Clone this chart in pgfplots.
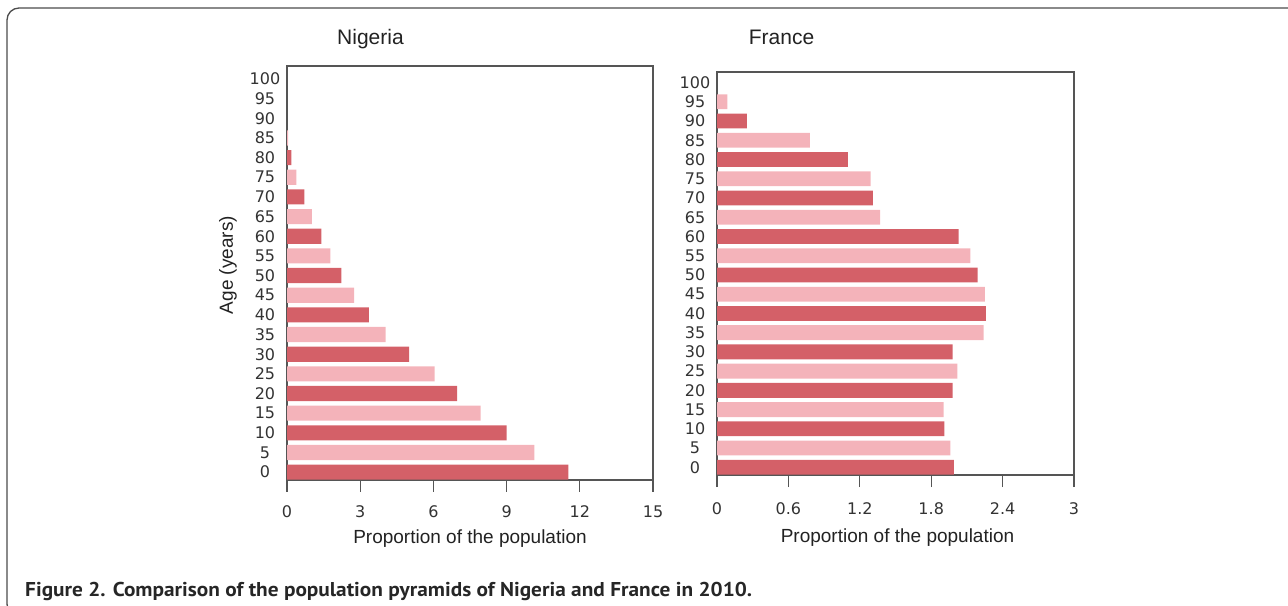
\documentclass[border=0pt]{standalone}
\usepackage{pgfplots}
\pgfplotsset{compat=1.18}
\usepackage{fontspec}
\setmainfont{Liberation Sans}
\newfontfamily\dejavu{DejaVu Sans}
\newfontfamily\capfont{PT Sans}
\definecolor{barDark}{RGB}{212,96,104}
\definecolor{barLight}{RGB}{244,179,186}
\definecolor{axisgray}{RGB}{85,85,85}
\definecolor{ticktext}{RGB}{51,51,51}
\definecolor{labeltext}{RGB}{34,34,34}

\pgfplotsset{pyr/.style={
  scale only axis, anchor=south west,
  xbar, bar shift=0pt, bar width=0.77,
  ytick={0,1,2,3,4,5,6,7,8,9,10,11,12,13,14,15,16,17,18,19,20},
  yticklabels={0,5,10,15,20,25,30,35,40,45,50,55,60,65,70,75,80,85,90,95,100},
  ytick style={draw=none},
  tick align=outside,
  xtick pos=bottom,
  major tick length=12bp,
  axis line style={draw=axisgray, line width=1.3bp},
  every tick/.style={draw=axisgray, line width=1.3bp},
  xtick style={draw=axisgray, line width=1.3bp},
  yticklabel style={font=\dejavu\fontsize{16bp}{18bp}\selectfont, text=ticktext, anchor=center, xshift=-10bp},
  xticklabel style={font=\dejavu\fontsize{16bp}{18bp}\selectfont, text=ticktext, anchor=center, yshift=-20bp},
  clip=false,
}}

\begin{document}
\begin{tikzpicture}
\useasboundingbox (0,0) rectangle (1288bp,606bp);
\draw[line width=1.3bp, black!70, rounded corners=12bp] (7bp,598bp) rectangle (1300bp,-10bp);

\begin{axis}[pyr, at={(287bp,126bp)}, width=366bp, height=414bp,
  xmin=0, xmax=15, ymin=-0.4, ymax=20.66,
  xtick={0,3,6,9,12,15}, xticklabels={0,3,6,9,12,15}]
\addplot[fill=barDark, draw=none] coordinates {
 (11.53,0) (9.00,2) (6.97,4) (5.01,6) (3.36,8) (2.23,10) (1.41,12) (0.71,14) (0.18,16)};
\addplot[fill=barLight, draw=none] coordinates {
 (10.14,1) (7.94,3) (6.05,5) (4.04,7) (2.75,9) (1.78,11) (1.02,13) (0.38,15) (0.05,17)};
\end{axis}

\begin{axis}[pyr, at={(717bp,131bp)}, width=357bp, height=403bp,
  xmin=0, xmax=3, ymin=-0.4, ymax=20.55,
  xtick={0,0.6,1.2,1.8,2.4,3}, xticklabels={0,0.6,1.2,1.8,2.4,3},
  xticklabel style={yshift=-2bp}]
\addplot[fill=barDark, draw=none] coordinates {
 (1.99,0) (1.91,2) (1.98,4) (1.98,6) (2.26,8) (2.19,10) (2.03,12) (1.31,14) (1.10,16) (0.25,18)};
\addplot[fill=barLight, draw=none] coordinates {
 (1.96,1) (1.905,3) (2.02,5) (2.24,7) (2.25,9) (2.13,11) (1.37,13) (1.29,15) (0.78,17) (0.087,19)};
\end{axis}

\node[anchor=base, font=\fontsize{21bp}{24bp}\selectfont, text=labeltext] at (370.5bp,561bp) {Nigeria};
\node[anchor=base, font=\fontsize{21bp}{24bp}\selectfont, text=labeltext] at (781.5bp,561bp) {France};
\node[anchor=base, font=\fontsize{19bp}{22bp}\selectfont, text=labeltext] at (470bp,62bp) {Proportion of the population};
\node[anchor=base, font=\fontsize{19bp}{22bp}\selectfont, text=labeltext] at (897.5bp,63bp) {Proportion of the population};
\node[rotate=90, font=\fontsize{19bp}{22bp}\selectfont, text=labeltext] at (228bp,341bp) {Age (years)};
\node[anchor=base west, inner sep=0pt, text=black!85] at (25bp,10bp)
  {\resizebox{727bp}{\height}{\capfont\bfseries\fontsize{20bp}{23bp}\selectfont Figure 2. Comparison of the population pyramids of Nigeria and France in 2010.}};
\end{tikzpicture}
\end{document}
